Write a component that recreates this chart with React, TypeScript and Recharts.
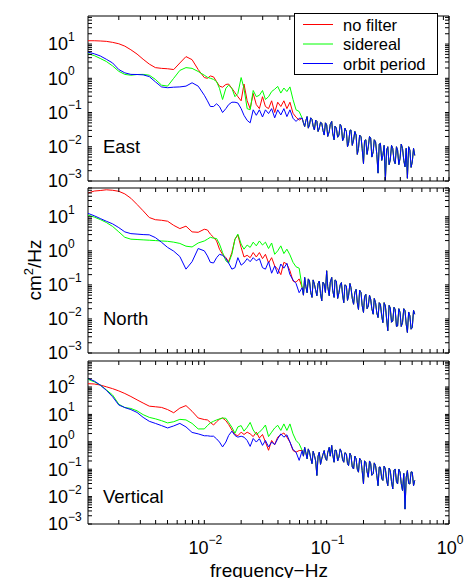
import { LineChart, Line, XAxis, YAxis, ReferenceArea } from 'recharts'

const FONT = '"Liberation Sans", Arial, Helvetica, sans-serif'
const PAGE_W = 467
const PAGE_H = 578
const PLOT_RIGHT = 449
const Y_AXIS_W = 88
const X_AXIS_H = 30
const TICK_LEN = 4
const X_MIN = 0.00112
const X_MAX = 1
const Y_MIN = 0.001

const seriesKeys = ['noFilter', 'sidereal', 'orbit']
const seriesNames = ['no filter', 'sidereal', 'orbit period']
const seriesColors = ['#ff0000', '#00ff00', '#0000ff']

// frequencies (Hz) where the three curves still differ
const freqLow = [
  0.00112, 0.00126, 0.00141, 0.00158, 0.00178, 0.002, 0.00224, 0.00251, 0.00282, 0.00316,
  0.00355, 0.00398, 0.00447, 0.00501, 0.00562, 0.00631, 0.00708, 0.00794, 0.00891, 0.01,
  0.0106, 0.0112, 0.0119, 0.0126, 0.0133, 0.0141, 0.015, 0.0158, 0.0168, 0.0178,
  0.0188, 0.02, 0.0211, 0.0224, 0.0237, 0.0251, 0.0266, 0.0282, 0.0299, 0.0316,
  0.0335, 0.0355, 0.0376, 0.0398, 0.0422, 0.0447, 0.0473, 0.0501, 0.0531, 0.0562, 0.0596,
]
// high-frequency part where they lie on top of each other
const freqTail = [
  0.0631, 0.0646, 0.0661, 0.0676, 0.0692, 0.0708, 0.0724, 0.0741, 0.0759, 0.0776,
  0.0794, 0.0813, 0.0832, 0.0851, 0.0871, 0.0891, 0.0912, 0.0933, 0.0955, 0.0977,
  0.1, 0.102, 0.105, 0.107, 0.11, 0.112, 0.115, 0.117, 0.12, 0.123,
  0.126, 0.129, 0.132, 0.135, 0.138, 0.141, 0.145, 0.148, 0.151, 0.155,
  0.158, 0.162, 0.166, 0.17, 0.174, 0.178, 0.182, 0.186, 0.191, 0.195,
  0.2, 0.204, 0.209, 0.214, 0.219, 0.224, 0.229, 0.234, 0.24, 0.245,
  0.251, 0.257, 0.263, 0.269, 0.275, 0.282, 0.288, 0.295, 0.302, 0.309,
  0.316, 0.324, 0.331, 0.339, 0.347, 0.355, 0.363, 0.372, 0.38, 0.389,
  0.398, 0.407, 0.417, 0.427, 0.437, 0.447, 0.457, 0.468, 0.479, 0.49,
  0.501, 0.513, 0.525,
]

const eastNoFilter = [
  12.5, 12.5, 12.3, 12, 11.2, 10.2, 8.7, 6.8, 5.1, 3.6, 2.6, 2.05, 1.95, 1.9, 1.8, 2.8, 4.3, 3.5, 1.8, 1.05,
  1.0, 1.17, 1.1, 0.8, 0.59, 0.55, 0.66, 0.68, 0.51, 0.38, 0.29, 0.22, 0.68, 0.22, 0.13, 0.36, 0.17, 0.13, 0.29, 0.15,
  0.13, 0.22, 0.1, 0.2, 0.15, 0.22, 0.13, 0.2, 0.095, 0.073, 0.06,
]
const eastSidereal = [
  5.2, 4.6, 3.8, 3.1, 2.3, 1.6, 1.3, 1.23, 1.29, 1.3, 1.23, 0.93, 0.63, 0.59, 1.0, 1.7, 2.05, 1.95, 1.58, 1.23,
  1.07, 1.0, 0.93, 0.8, 0.51, 0.24, 0.51, 0.63, 0.51, 0.29, 0.36, 1.05, 0.51, 0.13, 0.12, 0.44, 0.29, 0.32, 0.44, 0.24,
  0.29, 0.41, 0.48, 0.58, 0.37, 0.52, 0.41, 0.56, 0.24, 0.12, 0.107,
]
const eastOrbit = [
  5.8, 5.2, 4.5, 3.6, 2.8, 1.8, 1.44, 1.3, 1.29, 1.26, 1.12, 0.79, 0.56, 0.53, 0.55, 0.56, 0.59, 0.74, 0.59, 0.32,
  0.22, 0.15, 0.15, 0.18, 0.15, 0.1, 0.13, 0.17, 0.2, 0.2, 0.19, 0.13, 0.083, 0.059, 0.05, 0.12, 0.083, 0.12, 0.074, 0.12,
  0.093, 0.13, 0.07, 0.12, 0.085, 0.13, 0.076, 0.12, 0.068, 0.055, 0.068,
]
const eastTail = [
  0.068, 0.05, 0.039, 0.058, 0.076, 0.035, 0.044, 0.07, 0.063, 0.04,
  0.031, 0.06, 0.055, 0.028, 0.035, 0.052, 0.049, 0.03, 0.022, 0.05,
  0.044, 0.02, 0.028, 0.045, 0.055, 0.025, 0.016, 0.04, 0.035, 0.019,
  0.022, 0.045, 0.039, 0.015, 0.018, 0.035, 0.028, 0.01, 0.0126, 0.03,
  0.031, 0.011, 0.016, 0.028, 0.022, 0.006, 0.0089, 0.022, 0.0195, 0.009,
  0.0032, 0.015, 0.016, 0.006, 0.01, 0.02, 0.018, 0.005, 0.0071, 0.016,
  0.014, 0.006, 0.0017, 0.012, 0.0126, 0.004, 0.0056, 0.011, 0.00105, 0.008,
  0.01, 0.003, 0.0041, 0.011, 0.0089, 0.004, 0.0032, 0.01, 0.0079, 0.003,
  0.0046, 0.012, 0.0089, 0.004, 0.0026, 0.009, 0.0012, 0.01, 0.0079, 0.0025,
  0.0036, 0.009, 0.0056,
]

const northNoFilter = [
  50, 57, 59, 62, 60, 56, 47, 35, 23, 15, 9.5, 8.2, 7.9, 7.4, 5.6, 4.5, 5.3, 3.6, 3.5, 4.3,
  4.1, 3.1, 2.5, 1.95, 1.12, 0.79, 0.63, 0.48, 0.89, 2.2, 2.9, 1.26, 0.66, 0.74, 0.63, 0.89, 0.66, 0.89, 0.59, 0.79,
  0.44, 0.63, 0.36, 0.29, 0.2, 0.46, 0.41, 0.26, 0.13, 0.12, 0.15,
]
const northSidereal = [
  11.2, 9.8, 8.3, 6.8, 5.2, 3.6, 2.5, 2.2, 2.15, 2.1, 2.05, 2.0, 1.95, 1.9, 1.8, 1.65, 1.37, 1.3, 1.7, 1.95,
  2.2, 2.5, 2.35, 2.3, 1.58, 0.89, 0.51, 0.44, 0.79, 2.2, 3.1, 1.58, 1.12, 1.48, 1.26, 1.8, 1.4, 1.95, 1.48, 1.8,
  1.17, 1.7, 0.79, 1.0, 1.4, 0.83, 1.12, 0.76, 0.46, 0.34, 0.31,
]
const northOrbit = [
  12.6, 10.7, 8.9, 7.4, 6.2, 4.8, 3.6, 3.2, 3.1, 3.0, 2.95, 2.45, 1.78, 1.26, 0.98, 0.68, 0.29, 0.48, 1.17, 1.0,
  0.71, 0.46, 0.44, 0.63, 0.79, 0.74, 0.59, 0.44, 0.29, 0.32, 0.63, 0.38, 0.44, 0.59, 0.48, 0.63, 0.51, 0.59, 0.32, 0.29,
  0.48, 0.22, 0.36, 0.21, 0.41, 0.31, 0.43, 0.2, 0.14, 0.11, 0.059,
]
const northTail = [
  0.083, 0.05, 0.166, 0.09, 0.059, 0.15, 0.13, 0.06, 0.043, 0.14,
  0.105, 0.07, 0.048, 0.11, 0.13, 0.055, 0.034, 0.12, 0.105, 0.06,
  0.26, 0.09, 0.048, 0.12, 0.166, 0.07, 0.043, 0.14, 0.13, 0.04,
  0.059, 0.1, 0.117, 0.05, 0.03, 0.1, 0.093, 0.035, 0.048, 0.11,
  0.083, 0.04, 0.027, 0.06, 0.074, 0.03, 0.019, 0.07, 0.059, 0.025,
  0.0155, 0.045, 0.053, 0.02, 0.024, 0.05, 0.038, 0.02, 0.0138, 0.04,
  0.03, 0.015, 0.011, 0.03, 0.027, 0.012, 0.0078, 0.03, 0.024, 0.01,
  0.0045, 0.025, 0.021, 0.008, 0.0087, 0.022, 0.019, 0.006, 0.0062, 0.02,
  0.0155, 0.006, 0.0078, 0.02, 0.0174, 0.007, 0.004, 0.016, 0.0123, 0.005,
  0.0056, 0.018, 0.0138,
]

const vertNoFilter = [
  132, 129, 118, 102, 87, 72, 58, 45, 34, 26, 20, 19, 18, 15, 11.5, 17, 21, 13, 7.4, 6.5,
  6.3, 5.1, 4.1, 5.4, 6.7, 7.4, 5.9, 4.3, 2.7, 1.85, 1.66, 2.25, 1.85, 2.25, 1.95, 1.55, 2.25, 1.38, 1.85, 0.98,
  0.49, 1.12, 0.79, 1.48, 1.8, 2.1, 1.48, 0.98, 0.48, 0.42, 0.48,
]
const vertSidereal = [
  190, 155, 118, 79, 51, 23.5, 17.8, 16.5, 13.5, 9.8, 7.8, 6.9, 5.9, 4.9, 5.4, 6.6, 6.3, 4.7, 2.95, 2.95,
  3.9, 4.9, 5.6, 6.3, 6.8, 7.4, 7.2, 5.1, 3.4, 2.05, 3.5, 3.9, 2.45, 3.4, 5.1, 2.7, 1.85, 2.25, 2.95, 4.1,
  1.55, 2.25, 3.2, 4.0, 2.6, 4.5, 2.6, 4.5, 1.95, 1.12, 0.85,
]
const vertOrbit = [
  205, 165, 118, 76, 44, 22, 17.8, 15, 11.8, 7.8, 5.6, 4.7, 3.9, 3.2, 3.8, 4.7, 3.5, 2.2, 1.95, 1.66,
  1.66, 1.6, 1.6, 1.28, 0.98, 0.65, 0.98, 1.7, 2.45, 1.7, 1.48, 1.6, 1.48, 1.12, 0.68, 1.32, 0.98, 1.3, 0.74, 1.12,
  0.65, 0.98, 0.79, 1.29, 1.95, 1.48, 1.8, 0.98, 0.52, 0.42, 0.21,
]
const vertTail = [
  0.48, 0.3, 0.63, 0.4, 0.24, 0.55, 0.42, 0.25, 0.16, 0.45,
  0.32, 0.2, 0.059, 0.3, 0.42, 0.15, 0.24, 0.35, 0.48, 0.25,
  0.21, 0.4, 0.63, 0.3, 0.74, 0.35, 0.18, 0.5, 0.48, 0.2,
  0.28, 0.55, 0.42, 0.22, 0.18, 0.4, 0.36, 0.16, 0.135, 0.38,
  0.32, 0.12, 0.102, 0.3, 0.24, 0.1, 0.078, 0.25, 0.21, 0.09,
  0.029, 0.2, 0.18, 0.08, 0.051, 0.2, 0.16, 0.06, 0.068, 0.17,
  0.135, 0.06, 0.025, 0.12, 0.118, 0.045, 0.039, 0.13, 0.102, 0.04,
  0.025, 0.11, 0.089, 0.035, 0.019, 0.09, 0.102, 0.035, 0.029, 0.1,
  0.078, 0.03, 0.0166, 0.07, 0.0035, 0.05, 0.089, 0.03, 0.029, 0.08,
  0.078, 0.025, 0.039,
]

const xDecades = [0.001, 0.01, 0.1, 1]
const yDecadesShort = [0.001, 0.01, 0.1, 1, 10]
const yDecadesTall = [0.001, 0.01, 0.1, 1, 10, 100]

function withMinors(decades: number[], lo: number, hi: number) {
  const out: number[] = []
  decades.forEach((d) => {
    for (let k = 1; k <= 9; k++) {
      const v = d * k
      if (v >= lo * 0.999 && v <= hi * 1.001) out.push(v)
    }
  })
  return out
}

function isDecade(v: number) {
  const l = Math.log10(v)
  return Math.abs(l - Math.round(l)) < 1e-6
}

function expText(v: number) {
  const e = Math.round(Math.log10(v))
  return e < 0 ? `\u2212${-e}` : `${e}`
}

function buildRows(low: number[][], tail: number[]) {
  const rows: Record<string, number>[] = []
  freqLow.forEach((f, i) => {
    rows.push({ f, noFilter: low[0][i], sidereal: low[1][i], orbit: low[2][i] })
  })
  freqTail.forEach((f, i) => {
    rows.push({ f, noFilter: tail[i], sidereal: tail[i], orbit: tail[i] })
  })
  return rows
}

const panels = [
  {
    name: 'East',
    top: 16,
    bottom: 181,
    yMax: 66,
    decades: yDecadesShort,
    rows: buildRows([eastNoFilter, eastSidereal, eastOrbit], eastTail),
    labelY: 153,
  },
  {
    name: 'North',
    top: 188,
    bottom: 353,
    yMax: 70,
    decades: yDecadesShort,
    rows: buildRows([northNoFilter, northSidereal, northOrbit], northTail),
    labelY: 325,
  },
  {
    name: 'Vertical',
    top: 361,
    bottom: 524,
    yMax: 890,
    decades: yDecadesTall,
    rows: buildRows([vertNoFilter, vertSidereal, vertOrbit], vertTail),
    labelY: 503,
  },
]

const plotW = PLOT_RIGHT - Y_AXIS_W

function YTick(props: any) {
  const { x, y, payload } = props
  const v = payload.value
  return (
    <g>
      <line x1={x} x2={x + TICK_LEN} y1={y} y2={y} stroke="#000" />
      <line x1={x + plotW - TICK_LEN} x2={x + plotW} y1={y} y2={y} stroke="#000" />
      {isDecade(v) && (
        <text x={x - 40} y={y + 6.4} fontFamily={FONT} fontSize={18} fill="#000">
          10
          <tspan dy={-9.5} fontSize={12}>
            {expText(v)}
          </tspan>
        </text>
      )}
    </g>
  )
}

function XTick(props: any) {
  const { x, y, payload, plotH, showLabel } = props
  const v = payload.value
  return (
    <g>
      <line x1={x} x2={x} y1={y} y2={y - TICK_LEN} stroke="#000" />
      <line x1={x} x2={x} y1={y - plotH} y2={y - plotH + TICK_LEN} stroke="#000" />
      {showLabel && isDecade(v) && v > X_MIN && (
        <text x={x + 1} y={y + 30} textAnchor="middle" fontFamily={FONT} fontSize={18} fill="#000">
          10
          <tspan dy={-10.5} fontSize={12}>
            {expText(v)}
          </tspan>
        </text>
      )}
    </g>
  )
}

function Panel({ p, last }: { p: (typeof panels)[number]; last: boolean }) {
  const plotH = p.bottom - p.top
  const xTicks = withMinors(xDecades, X_MIN, X_MAX)
  const yTicks = withMinors(p.decades, Y_MIN, p.yMax)
  return (
    <div style={{ position: 'absolute', left: 0, top: 0 }}>
      <LineChart
        width={PAGE_W}
        height={PAGE_H}
        data={p.rows}
        margin={{ top: p.top, right: PAGE_W - PLOT_RIGHT, left: 0, bottom: PAGE_H - p.bottom - X_AXIS_H }}
      >
        <XAxis
          dataKey="f"
          type="number"
          scale="log"
          domain={[X_MIN, X_MAX]}
          ticks={xTicks}
          interval={0}
          height={X_AXIS_H}
          tickSize={0}
          tickMargin={0}
          tickLine={false}
          axisLine={false}
          allowDataOverflow
          tick={(tp: any) => <XTick {...tp} plotH={plotH} showLabel={last} />}
        />
        <YAxis
          type="number"
          scale="log"
          domain={[Y_MIN, p.yMax]}
          ticks={yTicks}
          interval={0}
          width={Y_AXIS_W}
          tickSize={0}
          tickMargin={0}
          tickLine={false}
          axisLine={false}
          allowDataOverflow
          tick={(tp: any) => <YTick {...tp} />}
        />
        {seriesKeys.map((k, i) => (
          <Line
            key={k}
            dataKey={k}
            type="linear"
            stroke={seriesColors[i]}
            strokeWidth={1}
            dot={false}
            activeDot={false}
            isAnimationActive={false}
          />
        ))}
        <ReferenceArea
          x1={X_MIN}
          x2={X_MAX}
          y1={Y_MIN}
          y2={p.yMax}
          fill="none"
          fillOpacity={0}
          stroke="#000"
          strokeWidth={1}
        />
      </LineChart>
    </div>
  )
}

export default function App() {
  const legendY = [24.5, 44, 63.5]
  return (
    <div style={{ position: 'absolute', left: 0, top: 0, width: PAGE_W, height: PAGE_H, background: '#fff' }}>
      {panels.map((p, i) => (
        <Panel key={p.name} p={p} last={i === panels.length - 1} />
      ))}
      <svg
        width={PAGE_W}
        height={PAGE_H}
        style={{ position: 'absolute', left: 0, top: 0, pointerEvents: 'none' }}
        fontFamily={FONT}
      >
        {panels.map((p) => (
          <text key={p.name} x={103} y={p.labelY} fontSize={18.5} fill="#000">
            {p.name}
          </text>
        ))}
        <text x={41} y={270} fontSize={19} textAnchor="middle" transform="rotate(-90 41 270)" fill="#000">
          cm
          <tspan dy={-8} fontSize={13}>
            2
          </tspan>
          <tspan dy={8}>/Hz</tspan>
        </text>
        <text x={269} y={577} fontSize={19} textAnchor="middle" fill="#000">
          frequency{'\u2212'}Hz
        </text>
        <rect x={294.5} y={13.5} width={143} height={61} fill="#fff" stroke="#000" strokeWidth={1} />
        {seriesNames.map((n, i) => (
          <g key={n}>
            <line x1={303} x2={333} y1={legendY[i]} y2={legendY[i]} stroke={seriesColors[i]} strokeWidth={1} />
            <text x={343} y={legendY[i] + 6} fontSize={16.5} fill="#000">
              {n}
            </text>
          </g>
        ))}
      </svg>
    </div>
  )
}
